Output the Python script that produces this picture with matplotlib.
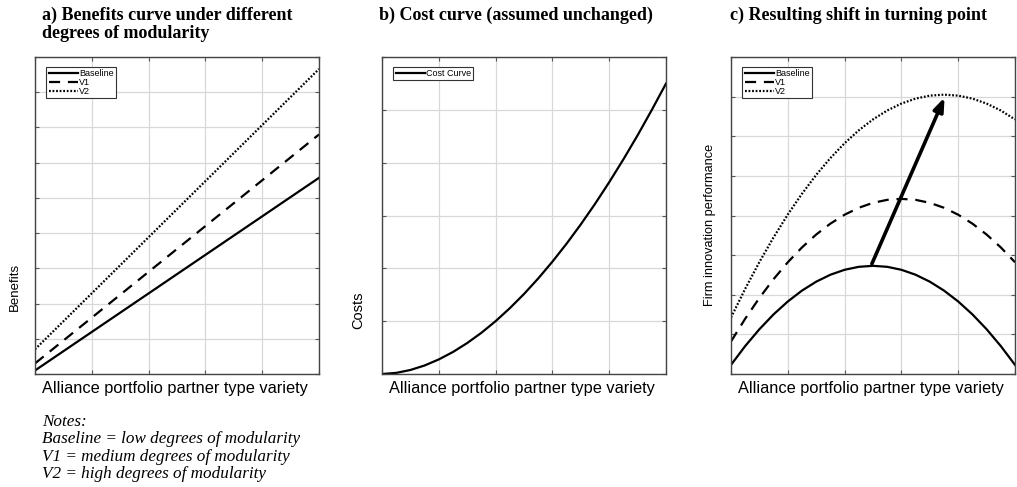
import matplotlib.pyplot as plt
import numpy as np

# panel a: benefits (straight lines, end points)
x_a = [0, 5]
ben_base = [0.1, 5.57]
ben_v1 = [0.3, 6.8]
ben_v2 = [0.7, 8.66]

# panel b: cost curve
x_b = np.arange(0, 5.01, 0.25)
cost = [0.0, 0.021, 0.076, 0.161, 0.276, 0.417, 0.586, 0.780, 1.0, 1.245, 1.514,
        1.808, 2.126, 2.467, 2.832, 3.219, 3.630, 4.063, 4.518, 4.998, 5.497]

# panel c: firm innovation performance
x_c = np.arange(0, 5.01, 0.25)
perf_base = [0.23, 0.705, 1.13, 1.505, 1.83, 2.105, 2.33, 2.505, 2.63, 2.705, 2.73,
             2.705, 2.63, 2.505, 2.33, 2.105, 1.83, 1.505, 1.13, 0.705, 0.23]
perf_v1 = [0.82, 1.395, 1.92, 2.395, 2.82, 3.195, 3.52, 3.795, 4.02, 4.195, 4.32,
           4.395, 4.42, 4.395, 4.32, 4.195, 4.02, 3.795, 3.52, 3.195, 2.82]
perf_v2 = [1.425, 2.15, 2.825, 3.45, 4.025, 4.55, 5.025, 5.45, 5.825, 6.15, 6.425,
           6.65, 6.825, 6.95, 7.025, 7.05, 7.025, 6.95, 6.825, 6.65, 6.425]
arrow_start = (2.48, 2.78)
arrow_end = (3.76, 6.98)

xlabel = "Alliance portfolio partner type variety"
W, H = 1017, 487

fig = plt.figure(figsize=(W / 100, H / 100), dpi=100)
fig.patch.set_facecolor("white")


def make_ax(left, ymax):
    ax = fig.add_axes([left / W, 1 - 374 / H, 284 / W, 317 / H])
    ax.set_xlim(0, 5)
    ax.set_ylim(0, ymax)
    ax.set_xticks(np.arange(0, 5.01, 1))
    ax.set_yticks(np.arange(0, ymax + 0.01, 1))
    ax.tick_params(direction="in", length=3, color="#555555", labelleft=False,
                   labelbottom=False, top=True, right=True, width=0.8)
    ax.grid(True, color="#d8d8d8", linewidth=0.9)
    for s in ax.spines.values():
        s.set_color("#444444")
        s.set_linewidth(1.0)
    ax.set_axisbelow(True)
    return ax


def small_legend(ax):
    leg = ax.legend(loc="upper left", prop={"family": "Liberation Sans", "size": 6.5},
                    handlelength=3.2, handletextpad=0.15, labelspacing=0.0,
                    borderpad=0.25, borderaxespad=0, fancybox=False, framealpha=1,
                    bbox_to_anchor=(0.04, 0.97))
    leg.get_frame().set_edgecolor("#333333")
    leg.get_frame().set_linewidth(0.8)


lw = 1.6
dash = (0, (5, 3.5))
dot = (0, (0.8, 0.8))

# a)
ax1 = make_ax(35, 9)
ax1.plot(x_a, ben_base, color="black", lw=lw, label="Baseline")
ax1.plot(x_a, ben_v1, color="black", lw=lw, linestyle=dash, label="V1")
ax1.plot(x_a, ben_v2, color="black", lw=lw, linestyle=dot, label="V2")
small_legend(ax1)

# b)
ax2 = make_ax(382, 6)
ax2.plot(x_b, cost, color="black", lw=lw, label="Cost Curve")
small_legend(ax2)

# c)
ax3 = make_ax(731, 8)
ax3.plot(x_c, perf_base, color="black", lw=lw, label="Baseline")
ax3.plot(x_c, perf_v1, color="black", lw=lw, linestyle=dash, label="V1")
ax3.plot(x_c, perf_v2, color="black", lw=lw, linestyle=dot, label="V2")
ax3.annotate("", xy=arrow_end, xytext=arrow_start,
             arrowprops=dict(arrowstyle="-|>,head_length=0.8,head_width=0.3",
                             color="black", lw=2.6, shrinkA=0, shrinkB=0))
small_legend(ax3)

# axis labels
sans = "Liberation Sans"
for left in (35, 382, 731):
    fig.text((left + 140) / W, 1 - 388 / H, xlabel, ha="center", va="center",
             family=sans, fontsize=11.8)
fig.text(15 / W, 1 - 287 / H, "Benefits", rotation=90, ha="center", va="center",
         family=sans, fontsize=9.5)
fig.text(358 / W, 1 - 310 / H, "Costs", rotation=90, ha="center", va="center",
         family=sans, fontsize=10.5)
fig.text(710 / W, 1 - 225 / H, "Firm innovation performance", rotation=90,
         ha="center", va="center", family=sans, fontsize=9.2)

# titles
serif = "Liberation Serif"
fig.text(42 / W, 1 - 15 / H, "a) Benefits curve under different", ha="left",
         va="center", family=serif, weight="bold", fontsize=13)
fig.text(42 / W, 1 - 34 / H, "degrees of modularity", ha="left",
         va="center", family=serif, weight="bold", fontsize=13)
fig.text(379 / W, 1 - 15 / H, "b) Cost curve (assumed unchanged)", ha="left",
         va="center", family=serif, weight="bold", fontsize=13)
fig.text(730 / W, 1 - 15 / H, "c) Resulting shift in turning point", ha="left",
         va="center", family=serif, weight="bold", fontsize=13)

# notes
notes = ["Notes:",
         "Baseline = low degrees of modularity",
         "V1 = medium degrees of modularity",
         "V2 = high degrees of modularity"]
for i, line in enumerate(notes):
    fig.text(42 / W, 1 - (422 + 17.3 * i) / H, line, ha="left", va="center",
             family=serif, style="italic", fontsize=12.3)

fig.savefig("out.png", dpi=100)
